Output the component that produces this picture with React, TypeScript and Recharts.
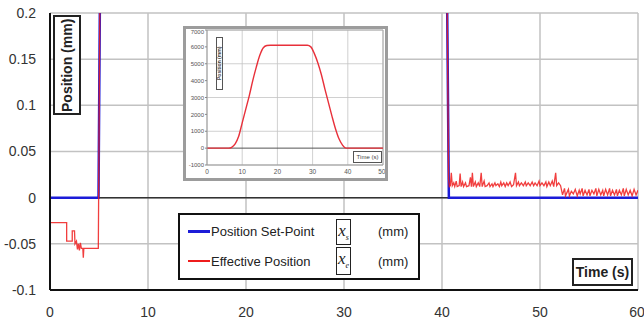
import React from "react";
import {
  LineChart,
  Line,
  XAxis,
  YAxis,
  CartesianGrid,
  ReferenceLine,
  Legend,
} from "recharts";

const FONT = "Arial, 'Liberation Sans', sans-serif";

// main chart: time (s) vs position error (mm)
const timeTicks = [0, 10, 20, 30, 40, 50, 60];
const positionTicks = [-0.1, -0.05, 0, 0.05, 0.1, 0.15, 0.2];

const setPointTime = [0, 4.95, 5.15, 40.45, 40.7, 60];
const setPointValue = [0, 0, 0.3, 0.3, 0, 0];

const effTime = [
  0, 1.7, 1.7, 2.27, 2.27, 2.5, 2.55, 2.7, 2.8, 2.9, 3.0, 3.1, 3.2, 3.35, 3.4, 3.45, 4.93, 5.17,
  40.42, 40.67, 40.75, 40.85, 40.95, 41.05, 41.2, 41.3, 41.45, 41.55, 41.75, 41.85, 41.95, 42.1,
  42.2, 42.4, 42.5, 42.75, 42.9, 43.0, 43.1, 43.2, 43.4, 43.5, 43.7, 43.85, 44.0, 44.1, 44.3,
  44.4, 44.6, 44.8, 44.9, 45.1, 45.2, 45.4, 45.5, 45.7, 45.85, 46.0, 46.1, 46.3, 46.45, 46.6,
  46.75, 46.95, 47.1, 47.3, 47.5, 47.6, 47.8, 47.9, 48.1, 48.3, 48.5, 48.6, 48.8, 49.0, 49.2,
  49.35, 49.5, 49.7, 49.9, 50.0, 50.2, 50.4, 50.6, 50.7, 50.9, 51.05, 51.25, 51.4, 51.6, 51.7,
  51.9, 52.1, 52.3, 52.5, 52.6, 52.9, 53.0, 53.2, 53.4, 53.6, 53.8, 54.0, 54.1, 54.3, 54.4,
  54.6, 54.8, 55.0, 55.1, 55.3, 55.5, 55.7, 55.8, 56.0, 56.2, 56.4, 56.5, 56.7, 56.9, 57.1,
  57.2, 57.4, 57.6, 57.8, 57.9, 58.1, 58.3, 58.5, 58.6, 58.8, 59.0, 59.2, 59.4, 59.6, 59.8, 60.0,
];
const effValue = [
  -0.027, -0.027, -0.047, -0.047, -0.036, -0.036, -0.05, -0.047, -0.056, -0.05, -0.057, -0.049,
  -0.055, -0.055, -0.065, -0.055, -0.055, 0.35,
  0.35, 0.02, 0.012, 0.013, 0.027, 0.013, 0.016, 0.012, 0.018, 0.012, 0.013, 0.026, 0.012, 0.017,
  0.012, 0.016, 0.012, 0.013, 0.022, 0.012, 0.027, 0.012, 0.017, 0.012, 0.016, 0.012, 0.027,
  0.012, 0.018, 0.012, 0.013, 0.016, 0.012, 0.015, 0.012, 0.016, 0.013, 0.015, 0.012, 0.017,
  0.013, 0.016, 0.012, 0.016, 0.013, 0.017, 0.012, 0.014, 0.027, 0.013, 0.017, 0.013, 0.016,
  0.013, 0.017, 0.013, 0.016, 0.013, 0.017, 0.013, 0.016, 0.013, 0.018, 0.013, 0.016, 0.013,
  0.017, 0.012, 0.017, 0.013, 0.018, 0.012, 0.027, 0.013, 0.016, 0.013, 0.003, 0.01, 0.002,
  0.009, 0.002, 0.007, 0.004, 0.009, 0.002, 0.008, 0.004, 0.01, 0.002, 0.008, 0.003, 0.009,
  0.002, 0.008, 0.004, 0.01, 0.002, 0.009, 0.003, 0.008, 0.002, 0.009, 0.003, 0.01, 0.002,
  0.008, 0.003, 0.009, 0.002, 0.008, 0.003, 0.01, 0.002, 0.009, 0.003, 0.008, 0.002, 0.009,
  0.003, 0.008,
];

// inset: full travel profile
const insetTime = [
  0, 6.2, 7, 8, 9, 10, 11, 12, 13, 14, 15, 16, 17, 18, 28.5, 29.5, 30.5, 31.5, 32.5, 33.5, 34.5,
  35.5, 36.5, 37.5, 38.5, 39.5, 50,
];
const insetPos = [
  0, 0, 50, 250, 700, 1500, 2300, 3100, 4000, 4800, 5500, 5950, 6080, 6100, 6100, 6000, 5600,
  5050, 4350, 3500, 2700, 1900, 1150, 550, 180, 0, 0,
];
const insetXTicks = [0, 10, 20, 30, 40, 50];
const insetYTicks = [-1000, 0, 1000, 2000, 3000, 4000, 5000, 6000, 7000];

const seriesNames = ["Position Set-Point", "Effective Position"];
const seriesSymbols = ["s", "e"];

const setPointData = setPointTime.map((t, i) => ({ t, v: setPointValue[i] }));
const effData = effTime.map((t, i) => ({ t, v: effValue[i] }));
const insetData = insetTime.map((t, i) => ({ t, p: insetPos[i] }));

function LegendBox(props: any) {
  const items = [...(props.payload || [])].sort(
    (a: any, b: any) => seriesNames.indexOf(a.value) - seriesNames.indexOf(b.value)
  );
  return (
    <div
      style={{
        position: "relative",
        width: 242,
        height: 67,
        boxSizing: "border-box",
        border: "2px solid #111",
        background: "#fff",
        fontFamily: FONT,
        fontSize: 13,
        color: "#222",
      }}
    >
      {items.map((entry: any, i: number) => {
        const cy = i === 0 ? 16.5 : 46.5;
        const sym = seriesSymbols[seriesNames.indexOf(entry.value)];
        return (
          <React.Fragment key={entry.value}>
            <div
              style={{
                position: "absolute",
                left: 8,
                top: cy - 1.5,
                width: 22,
                height: i === 0 ? 3 : 2,
                background: entry.color,
              }}
            />
            <div style={{ position: "absolute", left: 31, top: cy - 8, lineHeight: "16px" }}>
              {entry.value}
            </div>
            <div
              style={{
                position: "absolute",
                left: 156,
                top: i === 0 ? 4 : 32,
                width: 15,
                height: i === 0 ? 26 : 28,
                boxSizing: "border-box",
                border: "1.5px solid #222",
                textAlign: "center",
                fontFamily: "'Liberation Serif', 'DejaVu Serif', serif",
                fontStyle: "italic",
                fontSize: 17,
                lineHeight: "22px",
              }}
            >
              x<span style={{ fontSize: 8, verticalAlign: -4 }}>{sym}</span>
            </div>
            <div style={{ position: "absolute", left: 198, top: cy - 8, lineHeight: "16px" }}>
              (mm)
            </div>
          </React.Fragment>
        );
      })}
    </div>
  );
}

function Inset() {
  return (
    <div
      style={{
        position: "absolute",
        left: 183,
        top: 26,
        width: 205,
        height: 155,
        boxSizing: "border-box",
        border: "3px solid #9c9c9c",
        background: "#fff",
      }}
    >
      <LineChart
        width={199}
        height={149}
        data={insetData}
        margin={{ top: 1, right: 2, bottom: 0, left: 0 }}
        style={{ overflow: "visible" }}
      >
        <CartesianGrid stroke="#c4c4c4" strokeWidth={0.8} />
        <XAxis
          dataKey="t"
          type="number"
          domain={[0, 50]}
          ticks={insetXTicks}
          height={13}
          tickLine={false}
          tickSize={2}
          tickMargin={2}
          axisLine={{ stroke: "#999", strokeWidth: 1 }}
          tick={{ fontSize: 6.5, fill: "#555", fontFamily: FONT }}
        />
        <YAxis
          type="number"
          domain={[-1000, 7000]}
          ticks={insetYTicks}
          width={21}
          tickLine={{ stroke: "#888" }}
          tickSize={2}
          tickMargin={1}
          axisLine={{ stroke: "#999", strokeWidth: 1 }}
          tick={{ fontSize: 6, fill: "#555", fontFamily: FONT }}
        />
        <ReferenceLine y={0} stroke="#555" strokeWidth={1} />
        <ReferenceLine y={7000} stroke="#aaa" strokeWidth={1} />
        <ReferenceLine x={50} stroke="#aaa" strokeWidth={1} />
        <Line
          dataKey="p"
          type="monotone"
          stroke="#e8303a"
          strokeWidth={1.4}
          dot={false}
          isAnimationActive={false}
        />
      </LineChart>
      <div
        style={{
          position: "absolute",
          left: 30,
          top: 8,
          width: 7,
          height: 53,
          boxSizing: "border-box",
          border: "1px solid #555",
          fontFamily: FONT,
          fontSize: 5,
          fontWeight: "bold",
          color: "#444",
          writingMode: "vertical-rl",
          transform: "rotate(180deg)",
          textAlign: "center",
          lineHeight: "5px",
        }}
      >
        Position (mm)
      </div>
      <div
        style={{
          position: "absolute",
          left: 167,
          top: 122,
          width: 29,
          height: 12,
          boxSizing: "border-box",
          border: "1px solid #555",
          background: "#fff",
          fontFamily: FONT,
          fontSize: 6,
          color: "#444",
          textAlign: "center",
          lineHeight: "10px",
        }}
      >
        Time (s)
      </div>
    </div>
  );
}

export default function App() {
  return (
    <div
      style={{
        position: "absolute",
        left: 0,
        top: 0,
        width: 644,
        height: 320,
        background: "#fff",
        fontFamily: FONT,
      }}
    >
      <LineChart width={644} height={320} margin={{ top: 13, right: 6, bottom: 0, left: 0 }}>
        <CartesianGrid stroke="#c2c2c2" strokeWidth={1.5} />
        <XAxis
          dataKey="t"
          type="number"
          domain={[0, 60]}
          ticks={timeTicks}
          height={30}
          tickLine={false}
          tickSize={6}
          tickMargin={11}
          axisLine={{ stroke: "#111", strokeWidth: 2 }}
          tick={{ fontSize: 14, fill: "#333", fontFamily: FONT }}
          allowDataOverflow
        />
        <YAxis
          type="number"
          domain={[-0.1, 0.2]}
          ticks={positionTicks}
          width={50}
          tickLine={false}
          tickSize={6}
          tickMargin={8}
          axisLine={{ stroke: "#111", strokeWidth: 2 }}
          tick={{ fontSize: 14, fill: "#333", fontFamily: FONT }}
          allowDataOverflow
        />
        <ReferenceLine y={0} stroke="#333" strokeWidth={1.5} />
        <Line
          data={setPointData}
          dataKey="v"
          name={seriesNames[0]}
          type="linear"
          stroke="#1c1cd8"
          strokeWidth={2.5}
          dot={false}
          isAnimationActive={false}
        />
        <Line
          data={effData}
          dataKey="v"
          name={seriesNames[1]}
          type="linear"
          stroke="#ee1c1c"
          strokeWidth={1.3}
          strokeOpacity={0.85}
          dot={false}
          isAnimationActive={false}
        />
        <Legend
          layout="horizontal"
          verticalAlign="middle"
          align="center"
          content={LegendBox}
          wrapperStyle={{ left: 178, top: 213, width: 242, height: 67 }}
        />
      </LineChart>
      <Inset />
      <div
        style={{
          position: "absolute",
          left: 53,
          top: 15,
          width: 28,
          height: 100,
          boxSizing: "border-box",
          border: "2px solid #222",
          background: "#fff",
          fontSize: 14,
          fontWeight: "bold",
          color: "#222",
          writingMode: "vertical-rl",
          transform: "rotate(180deg)",
          textAlign: "center",
          lineHeight: "24px",
        }}
      >
        Position (mm)
      </div>
      <div
        style={{
          position: "absolute",
          left: 572,
          top: 258,
          width: 61,
          height: 28,
          boxSizing: "border-box",
          border: "2px solid #222",
          background: "#fff",
          fontSize: 14,
          fontWeight: "bold",
          color: "#222",
          textAlign: "center",
          lineHeight: "24px",
        }}
      >
        Time (s)
      </div>
    </div>
  );
}
